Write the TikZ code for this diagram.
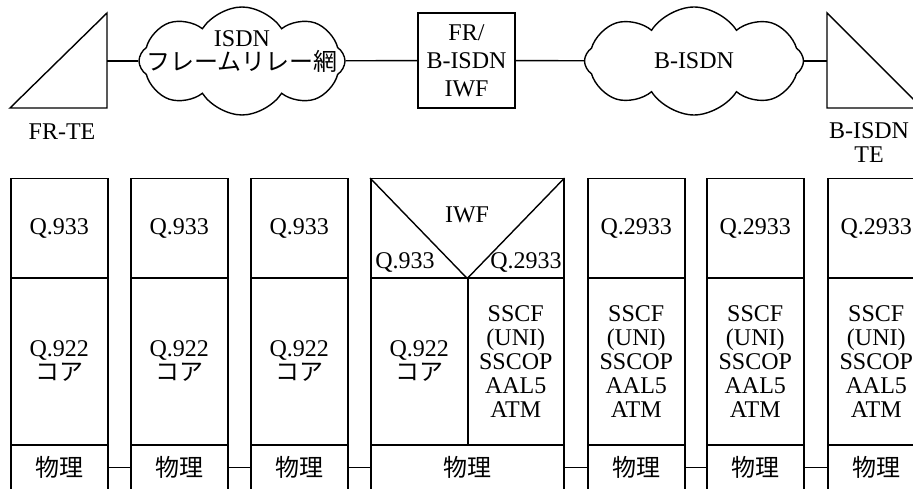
\documentclass[tikz,border=0pt]{standalone}
\usepackage{fontspec}
\setmainfont{Liberation Serif}
\newfontfamily\jpfont{Noto Sans CJK JP}
\usetikzlibrary{shapes.symbols, positioning}

\tikzset{
  box/.style={draw, line width=1.5pt, inner sep=0pt, anchor=north west, align=center, minimum width=97pt},
  toplayer/.style={box, minimum height=99pt},
  midlayer/.style={box, minimum height=167pt},
  phylayer/.style={box, minimum height=46pt},
  net/.style={cloud, draw, line width=1.4pt, cloud puffs=8, cloud puff arc=115, inner sep=0pt, minimum height=108pt},
  link/.style={line width=1.4pt},
}

\begin{document}
\begin{tikzpicture}[x=1pt, y=-1pt, font=\fontsize{24}{24}\selectfont]
  \useasboundingbox (0,0) rectangle (913,489);
  \clip (0,0) rectangle (913,489);

  % Terminals and networks
  \draw[link] (10,108) -- (107,13) -- (107,108) -- cycle;
  \coordinate (frte) at (107,61);
  \node (frtelabel) at (62,132) {FR-TE};

  \node[net, minimum width=206pt] (isdn) at (242,61) {};
  \node[align=center] (isdnlabel) at (242,52) {ISDN\\{\jpfont フレームリレー網}};

  \node[box, anchor=center, minimum height=95pt, font=\fontsize{24}{28}\selectfont] (iwf) at (466.5,60.5) {FR/\\B-ISDN\\IWF};

  \node[net, minimum width=219pt] (bisdn) at (694,61) {};
  \node (bisdnlabel) at (694,61) {B-ISDN};

  \draw[link] (827,108) -- (827,13) -- (922,108) -- cycle;
  \coordinate (bte) at (827,61);
  \node[align=center] (btelabel) at (869,143) {B-ISDN\\TE};

  \draw[link] (frte) -- (isdn);
  \draw[link] (isdn) -- (iwf);
  \draw[link] (iwf) -- (bisdn);
  \draw[link] (bisdn) -- (bte);

  % FR side stacks
  \foreach \x [count=\i] in {10,130,250} {
    \node[toplayer] (q\i) at (\x,178) {Q.933};
    \node[midlayer] (l\i) at (\x,277) {Q.922\\{\jpfont コア}};
    \node[phylayer] (p\i) at (\x,444) {\jpfont 物理};
  }

  % IWF stack
  \node[toplayer, minimum width=193pt] (q4) at (370,178) {};
  \draw[link] (q4.north west) -- (q4.south) -- (q4.north east);
  \node (iwftop) at (467,215) {IWF};
  \node (iwfleft) at (405,263) {Q.933};
  \node (iwfright) at (526,263) {Q.2933};
  \node[midlayer] (l4) at (370,277) {Q.922\\{\jpfont コア}};
  \node[midlayer, minimum width=96pt] (s4) at (467,277) {SSCF\\(UNI)\\SSCOP\\AAL5\\ATM};
  \node[phylayer, minimum width=193pt] (p4) at (370,444) {\jpfont 物理};

  % B-ISDN side stacks
  \foreach \x [count=\i from 5] in {587,706,827} {
    \node[toplayer] (q\i) at (\x,178) {Q.2933};
    \node[midlayer] (l\i) at (\x,277) {SSCF\\(UNI)\\SSCOP\\AAL5\\ATM};
    \node[phylayer] (p\i) at (\x,444) {\jpfont 物理};
  }

  \foreach \a [evaluate=\a as \b using int(\a+1)] in {1,...,6}
    \draw[link] (p\a) -- (p\b);
\end{tikzpicture}
\end{document}
